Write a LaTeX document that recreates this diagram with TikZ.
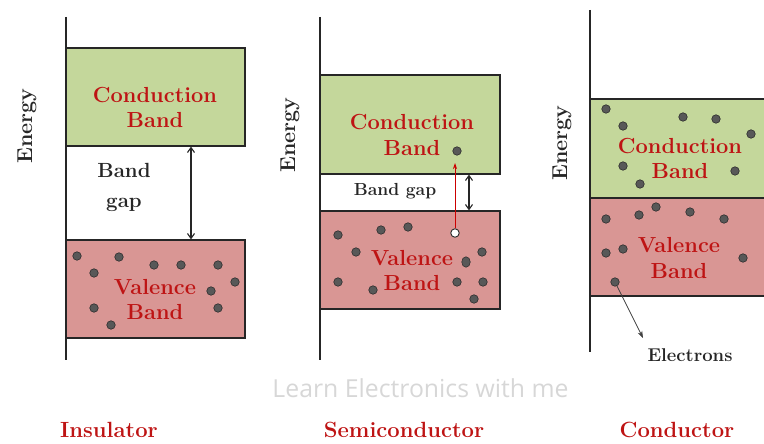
\documentclass[tikz,border=0pt]{standalone}
\usepackage{fontspec}
\newfontfamily\markfont{Open Sans}
\usetikzlibrary{arrows.meta,shapes.geometric}

\definecolor{cbgreen}{RGB}{196,215,155}
\definecolor{vbred}{RGB}{217,150,148}
\definecolor{lblred}{RGB}{190,20,20}
\definecolor{dotgray}{RGB}{88,88,88}
\definecolor{dotedge}{RGB}{45,45,45}
\definecolor{markgray}{RGB}{215,215,215}

\begin{document}
\begin{tikzpicture}[x=1pt,y=-1pt,
  band/.style={draw=black!85, line width=1.1pt, inner sep=0pt},
  cband/.style={band, fill=cbgreen},
  vband/.style={band, fill=vbred},
  bandlabel/.style={text=lblred, align=center, font=\bfseries\fontsize{21.8}{25.5}\selectfont},
  gaplabel/.style={text=black!85, align=center, font=\bfseries\fontsize{20.5}{30}\selectfont},
  energy/.style={rotate=90, text=black!85, font=\bfseries\fontsize{21.5}{22}\selectfont},
  title/.style={anchor=base, text=lblred, font=\bfseries\fontsize{22}{24}\selectfont},
  axis/.style={line width=2.6pt, black!85},
  dot/.style={circle, fill=dotgray, draw=dotedge, line width=0.6pt, minimum size=8.5pt, inner sep=0pt},
  hole/.style={circle, fill=white, draw=dotedge, line width=0.9pt, minimum size=8.5pt, inner sep=0pt},
  gaparrow/.style={{Straight Barb[length=5pt,width=7pt]}-{Straight Barb[length=5pt,width=7pt]}, line width=1.1pt, black!85},
]
\useasboundingbox (0,0) rectangle (764,444);

% ---------------- Insulator ----------------
\coordinate (ia1) at (66,17);
\coordinate (ia2) at (66,360);
\node[cband, minimum width=179pt, minimum height=98pt] (ic) at (155.5,97) {};
\node[vband, minimum width=179pt, minimum height=98pt] (iv) at (155.5,289) {};
\draw[axis] (ia1) -- (ia2);
\node[bandlabel] (ict) at (155,107.5) {Conduction\\Band};
\node[bandlabel] (ivt) at (155,299.5) {Valence\\Band};
\node[gaplabel] (igap) at (124,187) {Band\\gap};
\node[energy] (ien) at (27,126) {Energy};
\coordinate (igx) at (191,0);
\draw[gaparrow] (ic.south -| igx) -- (iv.north -| igx);
\foreach \p [count=\i] in {(77,256),(119,257),(94,273),(154,265),(181,265),(218,265),
  (235,282),(211,291),(94,308),(218,308),(111,325)}
  \node[dot] (ie\i) at \p {};
\node[title] (ititle) at (109,437) {Insulator};

% ---------------- Semiconductor ----------------
\coordinate (sa1) at (320,17);
\coordinate (sa2) at (320,360);
\node[cband, minimum width=180pt, minimum height=99pt] (sc) at (410,124.5) {};
\node[vband, minimum width=180pt, minimum height=98pt] (sv) at (410,260) {};
\draw[axis] (sa1) -- (sa2);
\node[bandlabel] (sct) at (412,135) {Conduction\\Band};
\node[bandlabel] (svt) at (412,270.5) {Valence\\Band};
\node[gaplabel, font=\bfseries\fontsize{17.5}{18}\selectfont] (sgap) at (395,191) {Band gap};
\node[energy] (sen) at (290,135) {Energy};
\coordinate (sgx) at (469,0);
\draw[gaparrow] (sc.south -| sgx) -- (sv.north -| sgx);
\foreach \p [count=\i] in {(338,235),(381,230),(408,227),(356,252),(482,252),
  (338,282),(373,290),(457,282),(483,282),(474,299)}
  \node[dot] (se\i) at \p {};
\node[dot, ellipse, minimum width=8.5pt, minimum height=10.5pt] (se11) at (466,262) {};
\node[dot] (sfree) at (457,151) {};
\node[hole] (hole) at (455,233) {};
\coordinate (jump) at (455,163);
\draw[-{Stealth[length=6pt,width=4pt]}, red!80!black, line width=0.8pt] (hole) -- (jump);
\node[title] (stitle) at (404,437) {Semiconductor};

% ---------------- Conductor ----------------
\coordinate (ca1) at (590,10);
\coordinate (ca2) at (590,352);
\node[cband, minimum width=180pt, minimum height=99pt] (cc) at (680,148.5) {};
\node[vband, minimum width=180pt, minimum height=98pt] (cv) at (680,247) {};
\draw[axis] (ca1) -- (ca2);
\node[bandlabel] (cct) at (680,158.5) {Conduction\\Band};
\node[bandlabel] (cvt) at (679,258) {Valence\\Band};
\node[energy] (cen) at (562,143) {Energy};
\foreach \p [count=\i] in {(606,109),(623,126),(683,117),(716,119),(751,134),
  (623,166),(640,184),(735,171)}
  \node[dot] (cc\i) at \p {};
\foreach \p [count=\i] in {(656,207),(606,219),(639,215),(690,212),(724,219),
  (606,253),(623,249),(743,258)}
  \node[dot] (cv\i) at \p {};
\node[dot] (el) at (615,282) {};
\coordinate (eltip) at (643,338);
\draw[-{Stealth[length=7pt,width=5pt]}, black!75, line width=0.7pt] (el) -- (eltip);
\node[text=black!85, font=\bfseries\fontsize{18.5}{20}\selectfont] (elabel) at (690,355) {Electrons};
\node[title] (ctitle) at (677,437) {Conductor};

% ---------------- watermark ----------------
\node[anchor=base, text=markgray, font=\markfont\fontsize{24.8}{28}\selectfont] (mark) at (420.5,397) {Learn Electronics with me};
\end{tikzpicture}
\end{document}
